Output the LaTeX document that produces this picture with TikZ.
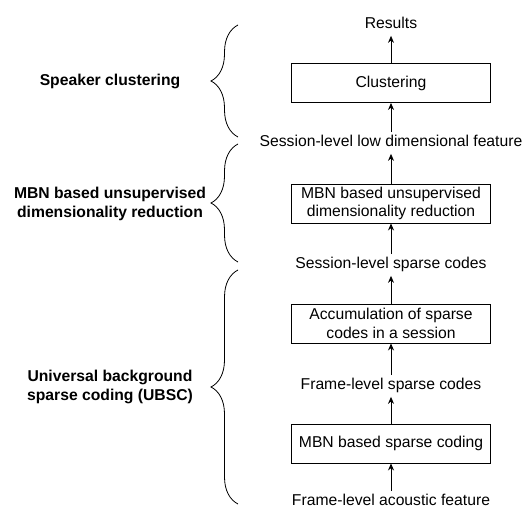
\documentclass[tikz,border=0pt]{standalone}
\usepackage{fontspec}
\setmainfont{Liberation Sans}
\usetikzlibrary{arrows.meta, positioning,
decorations.pathreplacing % for the curly braces on the left
}
\tikzset{%
  stage/.style={draw, line width=0.9pt, minimum width=199pt, minimum height=39pt,
    inner sep=2pt, align=center, font=\fontsize{15.7}{18.5}\selectfont},
  signal/.style={inner sep=3pt, text height=11.3pt, text depth=4pt,
    font=\fontsize{15.7}{18.5}\selectfont},
  part/.style={align=center, font=\bfseries\fontsize{15.7}{18.5}\selectfont},
  flow/.style={draw, ->, >={Stealth[length=7pt,width=6pt]}, line width=0.9pt},
  group/.style={draw, line width=0.8pt, decorate, decoration={brace, amplitude=27pt}}
}

\begin{document}
\begin{tikzpicture}[x=1pt, y=-1pt]
    \useasboundingbox (0,0) rectangle (522,510);

    % processing chain, bottom to top
    \node[signal] (acoustic) at (391,502) {Frame-level acoustic feature};
    \node[stage] (mbnsc) at (391,443.5) {MBN based sparse coding};
    \node[signal] (framecodes) at (391,386) {Frame-level sparse codes};
    \node[stage] (accum) at (391,323.5) {Accumulation of sparse\\codes in a session};
    \node[signal] (sesscodes) at (391,265) {Session-level sparse codes};
    \node[stage] (mbndr) at (391,203.5) {MBN based unsupervised\\dimensionality reduction};
    \node[signal] (lowfeat) at (391,143) {Session-level low dimensional feature};
    \node[stage] (clust) at (391,83) {Clustering};
    \node[signal] (results) at (391,25) {Results};

    \draw[flow] (acoustic) -- (mbnsc);
    \draw[flow] (mbnsc) -- (framecodes);
    \draw[flow] (framecodes) -- (accum);
    \draw[flow] (accum) -- (sesscodes);
    \draw[flow] (sesscodes) -- (mbndr);
    \draw[flow] (mbndr) -- (lowfeat);
    \draw[flow] (lowfeat) -- (clust);
    \draw[flow] (clust) -- (results);

    % braces grouping the stages
    \coordinate (b1top) at (238,25);
    \coordinate (b1bot) at (238,137);
    \coordinate (b2top) at (238,144);
    \coordinate (b2bot) at (238,262);
    \coordinate (b3top) at (238,270);
    \coordinate (b3bot) at (238,504);
    \draw[group] (b1bot) -- (b1top);
    \draw[group] (b2bot) -- (b2top);
    \draw[group] (b3bot) -- (b3top);

    \node[part] (spk) at (110,81) {Speaker clustering};
    \node[part] (udr) at (110,204) {MBN based unsupervised\\dimensionality reduction};
    \node[part] (ubsc) at (110,387) {Universal background\\sparse coding (UBSC)};
\end{tikzpicture}
\end{document}
